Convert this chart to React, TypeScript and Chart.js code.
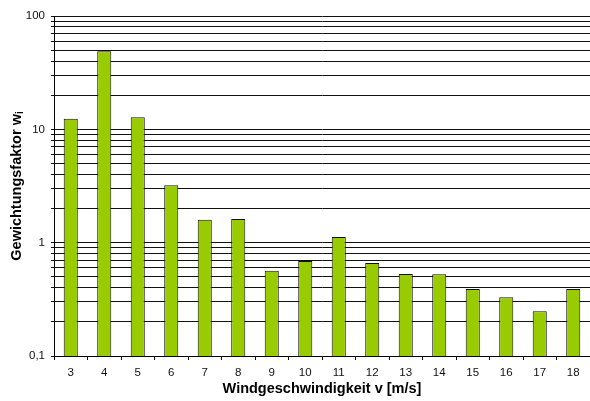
import React, { useEffect, useRef } from "react";
import { Chart, registerables } from "chart.js";

Chart.register(...registerables);

const categories = ["3", "4", "5", "6", "7", "8", "9", "10", "11", "12", "13", "14", "15", "16", "17", "18"];
const weights = [12.4, 48.9, 12.8, 3.21, 1.59, 1.62, 0.566, 0.69, 1.12, 0.663, 0.53, 0.527, 0.39, 0.33, 0.248, 0.39];
const yTickValues = [
  0.1, 0.2, 0.3, 0.4, 0.5, 0.6, 0.7, 0.8, 0.9,
  1, 2, 3, 4, 5, 6, 7, 8, 9,
  10, 20, 30, 40, 50, 60, 70, 80, 90, 100,
];
const yLabeled: Record<string, string> = { "0.1": "0,1", "1": "1", "10": "10", "100": "100" };
const xTitle = "Windgeschwindigkeit v [m/s]";
const yTitleMain = "Gewichtungsfaktor w";
const yTitleSub = "i";

const FONT = "Arial, 'Liberation Sans', sans-serif";

const yTitlePlugin = {
  id: "yTitleSub",
  afterDraw(chart: any) {
    const ctx = chart.ctx;
    const area = chart.chartArea;
    const cy = (area.top + area.bottom) / 2;
    ctx.save();
    ctx.translate(16.5, cy);
    ctx.rotate(-Math.PI / 2);
    ctx.fillStyle = "#000";
    ctx.textBaseline = "middle";
    ctx.font = "bold 14.5px " + FONT;
    const wMain = ctx.measureText(yTitleMain).width;
    ctx.font = "bold 10px " + FONT;
    const wSub = ctx.measureText(yTitleSub).width;
    const total = wMain + wSub;
    ctx.font = "bold 14.5px " + FONT;
    ctx.textAlign = "left";
    ctx.fillText(yTitleMain, -total / 2, 0);
    ctx.font = "bold 10px " + FONT;
    ctx.fillText(yTitleSub, -total / 2 + wMain, 4);
    ctx.restore();
  },
};

export default function App() {
  const ref = useRef<HTMLCanvasElement>(null);
  useEffect(() => {
    document.body.style.margin = "0";
    const chart = new Chart(ref.current!, {
      type: "bar",
      data: {
        labels: categories,
        datasets: [
          {
            data: weights,
            backgroundColor: "#99cc00",
            borderColor: "#111",
            borderWidth: 1,
            barPercentage: 0.84,
            categoryPercentage: 0.5,
          },
        ],
      },
      plugins: [yTitlePlugin],
      options: {
        animation: false,
        responsive: false,
        devicePixelRatio: 1,
        layout: { padding: { top: 16, right: 0, left: 0, bottom: 0 } },
        plugins: { legend: { display: false }, tooltip: { enabled: false } },
        scales: {
          x: {
            offset: true,
            grid: {
              offset: true,
              drawOnChartArea: false,
              drawTicks: true,
              tickLength: 4,
              color: "#000",
            },
            border: { color: "#000", width: 1 },
            ticks: { color: "#111", font: { family: FONT, size: 11.5 }, padding: 6 },
            title: {
              display: true,
              text: xTitle,
              color: "#000",
              font: { family: FONT, size: 14.5, weight: "bold" },
              padding: { top: 2, bottom: 3 },
            },
            afterFit(scale: any) {
              scale.height = 45;
            },
          },
          y: {
            type: "logarithmic",
            min: 0.1,
            max: 100,
            afterBuildTicks(scale: any) {
              scale.ticks = yTickValues.map((v) => ({ value: v }));
            },
            grid: { color: "#111", lineWidth: 1, drawTicks: true, tickLength: 3 },
            border: { color: "#000", width: 1 },
            ticks: {
              autoSkip: false,
              color: "#111",
              font: { family: FONT, size: 11.5 },
              padding: 6,
              callback: (v: any) => yLabeled[String(v)] ?? "",
            },
            afterFit(scale: any) {
              scale.width = 54;
            },
          },
        },
      },
    });
    return () => chart.destroy();
  }, []);
  return (
    <div style={{ position: "fixed", left: 0, top: 0, width: 590, height: 401, background: "#fff" }}>
      <canvas ref={ref} width={590} height={401} />
    </div>
  );
}
